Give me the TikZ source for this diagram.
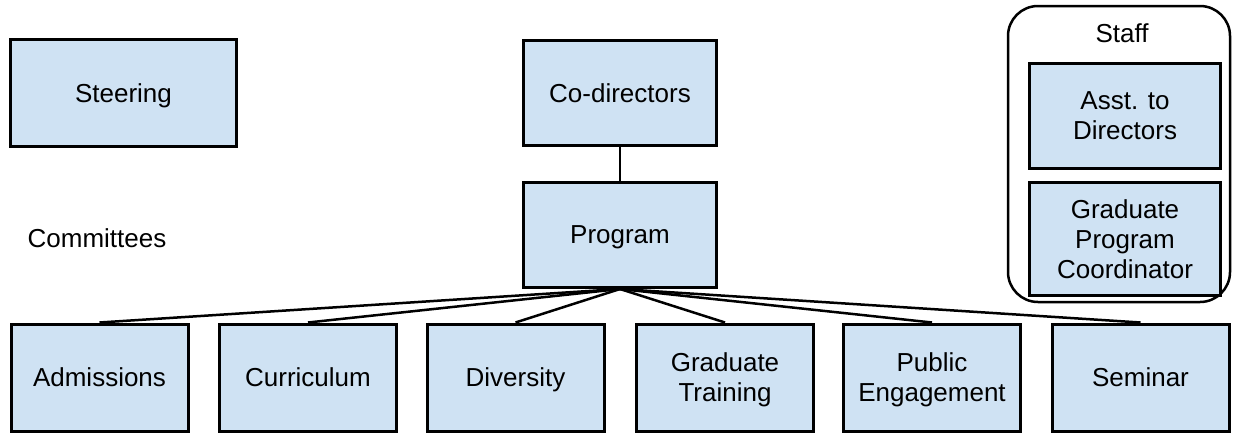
\documentclass[tikz,border=0pt]{standalone}
\usepackage{fontspec}
\setmainfont{Liberation Sans}
\definecolor{boxblue}{RGB}{207,226,243}

\begin{document}
\begin{tikzpicture}[x=1pt, y=-1pt,
    font=\fontsize{26}{30}\selectfont,
    unit/.style={draw, line width=3pt, fill=boxblue, align=center, text depth=0pt,
        minimum width=177pt, minimum height=107pt, inner sep=0pt},
    link/.style={line width=2.5pt}]
    \useasboundingbox (0,0) rectangle (1239,434);
    % top row
    \node[unit, minimum width=226pt] (steer) at (123.5,93) {Steering};
    \node[unit, minimum width=193pt, minimum height=105pt] (codir) at (620,93) {Co-directors};
    \node[unit, minimum width=193pt, minimum height=105pt] (prog) at (620,235) {Program};
    \node () (comm) at (97,238) {Committees};
    \draw [link] (codir.south) -- (prog.south |- prog.north);
    % staff group
    \node[draw, line width=2.5pt, rounded corners=30pt, minimum width=222pt, minimum height=296pt] (staff) at (1119,154) {};
    \node () (stafflbl) at (1122,33) {Staff};
    \node[unit, minimum width=191pt, minimum height=105pt] (asst) at (1125,116) {Asst. to\\Directors};
    \node[unit, minimum width=191pt, minimum height=113pt] (coord) at (1125,239) {Graduate\\Program\\Coordinator};
    % committees
    \foreach \n/\x/\t in {adm/99.5/Admissions, cur/308/Curriculum, div/515.5/Diversity,
        grt/725/{Graduate\\Training}, pub/932/{Public\\Engagement}, sem/1140.5/Seminar} {
        \node[unit] (\n) at (\x,377.5) {\t};
    }
    \foreach \n in {adm,cur,div,grt,pub,sem} {
        \draw [link] (prog.south) -- (\n.north);
    }
\end{tikzpicture}
\end{document}
